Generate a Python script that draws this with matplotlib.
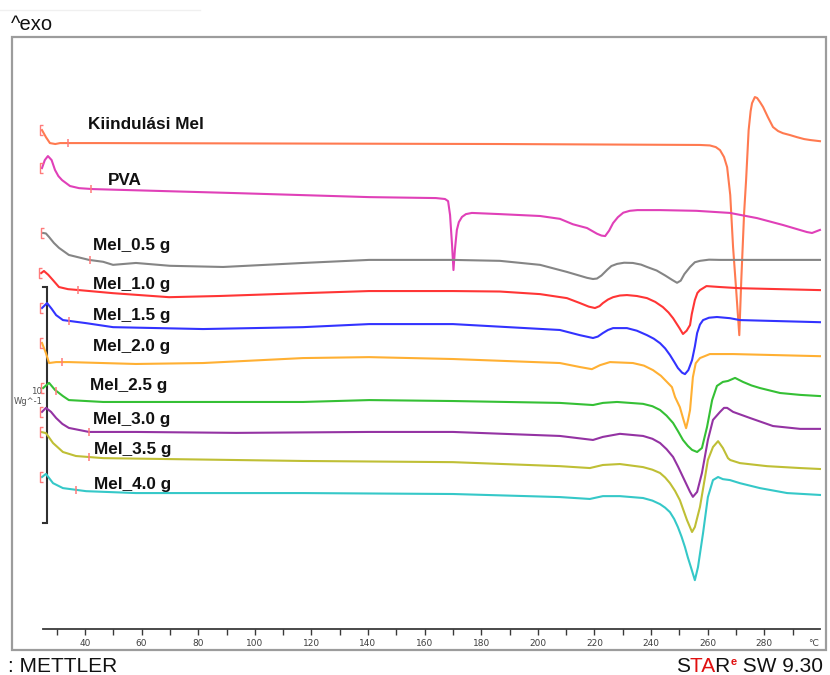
import numpy as np
import matplotlib
matplotlib.use("Agg")
import matplotlib.pyplot as plt
from matplotlib.path import Path
from matplotlib.patches import Rectangle
from matplotlib.lines import Line2D
from matplotlib.transforms import Bbox

# ---------------------------------------------------------------- data
# Temperatures in degC, heat flow in W/g relative to each curve's own baseline.
kiind_T = [24.8, 26.2, 27.6, 29.5, 31.2, 34.0, 45.3, 116.0, 186.6, 257.3, 260.8, 262.9,
           264.4, 265.8, 266.9, 268.0, 269.0, 270.1, 271.2, 271.9, 272.9, 273.6, 274.5,
           275.2, 275.7, 276.7, 277.5, 278.5, 279.6, 281.3, 283.1, 284.9, 286.6, 289.1,
           291.6, 294.1, 296.2, 299.7]
kiind_hf = [0.55, 0.25, 0.0, -0.04, 0.0, 0.0, 0.0, -0.02, -0.04, -0.08, -0.10, -0.17,
            -0.30, -0.59, -1.02, -2.20, -4.41, -6.23, -8.14, -5.81, -2.97, -1.57, 0.55,
            1.35, 1.69, 1.95, 1.91, 1.74, 1.53, 1.10, 0.68, 0.51, 0.42, 0.34,
            0.25, 0.17, 0.13, 0.08]

pva_T = [24.8, 25.8, 26.9, 28.2, 29.4, 30.6, 31.9, 34.7, 37.9, 42.8, 93.4, 140.4, 164.0,
         167.2, 168.3, 169.0, 169.7, 170.2, 170.7, 171.4, 172.1, 173.2, 174.6, 176.7,
         186.6, 200.8, 207.8, 212.4, 217.4, 220.9, 222.5, 223.8, 225.2, 226.6, 228.3,
         230.2, 232.5, 235.2, 243.2, 256.0, 267.9, 277.5, 286.6, 295.1, 296.9, 299.7]
pva_hf = [0.93, 1.27, 1.44, 1.27, 0.85, 0.59, 0.42, 0.17, 0.08, 0.04, -0.13, -0.30, -0.34,
          -0.38, -0.47, -1.06, -2.33, -3.39, -2.54, -1.69, -1.36, -1.14, -1.02, -0.97,
          -1.02, -1.10, -1.22, -1.45, -1.61, -1.85, -1.93, -1.95, -1.72, -1.40, -1.15,
          -0.96, -0.88, -0.85, -0.85, -0.88, -0.97, -1.19, -1.48, -1.78, -1.82, -1.69]

mel05_T = [25.2, 26.2, 27.3, 29.0, 30.8, 34.3, 41.4, 46.4, 49.9, 58.0, 70.0, 88.8, 117.0,
           140.4, 170.0, 186.6, 200.8, 210.3, 217.4, 219.5, 220.9, 222.5, 224.5, 226.0,
           228.0, 230.5, 233.6, 236.5, 238.6, 242.0, 245.0, 247.5, 249.2, 250.5, 251.8,
           253.8, 255.5, 257.3, 260.5, 264.4, 299.7]
mel05_hf = [1.14, 1.12, 0.97, 0.72, 0.51, 0.21, 0.0, -0.08, -0.21, -0.13, -0.25, -0.30,
            -0.13, 0.0, 0.0, -0.04, -0.21, -0.51, -0.76, -0.81, -0.79, -0.66, -0.42, -0.26,
            -0.17, -0.12, -0.13, -0.20, -0.30, -0.45, -0.66, -0.85, -0.97, -0.88, -0.60,
            -0.30, -0.10, -0.04, 0.01, 0.0, 0.0]

mel10_T = [24.5, 25.5, 27.0, 28.7, 30.8, 34.0, 37.9, 49.9, 69.7, 87.4, 117.0, 140.4, 170.0,
           186.6, 200.8, 210.3, 214.9, 218.0, 220.2, 221.8, 223.0, 224.8, 226.6, 229.0,
           231.5, 235.0, 238.6, 241.5, 244.2, 246.2, 247.8, 250.0, 251.3, 252.6, 253.8,
           254.4, 255.5, 256.4, 257.3, 259.6, 264.4, 271.4, 299.7]
mel10_hf = [0.72, 0.81, 0.65, 0.42, 0.13, 0.04, 0.0, -0.13, -0.30, -0.25, -0.13, -0.04, -0.04,
            -0.06, -0.17, -0.34, -0.55, -0.70, -0.76, -0.68, -0.55, -0.40, -0.30, -0.23,
            -0.21, -0.25, -0.34, -0.50, -0.72, -0.95, -1.19, -1.60, -1.86, -1.72, -1.48,
            -1.02, -0.42, -0.12, 0.0, 0.17, 0.13, 0.08, 0.0]

mel15_T = [24.8, 26.6, 28.2, 29.8, 32.2, 40.4, 49.9, 81.7, 117.0, 140.4, 170.0, 207.8, 214.9,
           219.5, 221.2, 223.0, 224.8, 226.6, 231.5, 235.0, 238.6, 241.0, 243.2, 245.0,
           246.7, 248.3, 249.5, 251.0, 252.0, 253.2, 254.5, 255.5, 256.3, 257.3, 258.4,
           260.5, 263.3, 267.9, 271.4, 299.7]
mel15_hf = [0.68, 0.89, 0.65, 0.38, 0.17, 0.04, -0.13, -0.21, -0.13, 0.0, 0.0, -0.25, -0.47,
            -0.59, -0.53, -0.38, -0.25, -0.17, -0.17, -0.28, -0.47, -0.62, -0.81, -1.03,
            -1.31, -1.62, -1.86, -2.06, -2.12, -1.95, -1.53, -0.95, -0.38, -0.02, 0.17,
            0.27, 0.30, 0.25, 0.17, 0.08]

mel20_T = [24.8, 26.2, 27.3, 29.8, 34.3, 58.0, 81.7, 117.0, 140.4, 170.0, 207.8, 214.9,
           219.1, 222.0, 225.5, 233.6, 237.5, 240.7, 243.5, 245.7, 247.4, 248.5, 250.2,
           251.5, 252.4, 253.1, 253.8, 254.8, 255.8, 257.3, 260.8, 269.0, 299.7]
mel20_hf = [0.81, 0.38, -0.04, 0.0, 0.0, -0.08, -0.04, 0.17, 0.21, 0.13, -0.04, -0.21,
            -0.30, -0.13, 0.0, -0.04, -0.15, -0.34, -0.58, -0.85, -1.06, -1.48, -1.91,
            -2.45, -2.80, -2.45, -2.03, -0.64, -0.05, 0.17, 0.34, 0.34, 0.25]

mel25_T = [25.2, 27.3, 29.4, 32.2, 34.3, 46.4, 69.7, 117.0, 140.4, 170.0, 207.8, 219.5,
           223.0, 228.0, 237.2, 240.5, 243.2, 245.5, 247.8, 249.6, 251.3, 253.0, 254.5,
           256.3, 258.0, 259.8, 261.6, 263.3, 265.4, 267.2, 269.7, 272.5, 275.5, 278.5,
           285.6, 292.7, 299.7]
mel25_hf = [0.59, 0.81, 0.51, 0.25, 0.08, 0.0, 0.0, 0.0, 0.08, 0.04, -0.04, -0.13,
            -0.04, 0.0, -0.08, -0.18, -0.34, -0.58, -0.89, -1.25, -1.61, -1.86, -2.03,
            -2.12, -1.95, -1.06, 0.08, 0.68, 0.85, 0.89, 1.02, 0.85, 0.70, 0.59,
            0.38, 0.30, 0.25]

mel30_T = [24.8, 26.2, 28.0, 29.8, 32.0, 34.3, 41.4, 58.0, 93.4, 140.4, 170.0, 207.8, 219.5,
           223.0, 229.0, 237.2, 240.5, 243.2, 245.5, 247.8, 249.6, 251.3, 253.8, 254.8,
           256.3, 258.0, 260.1, 261.9, 264.4, 265.8, 266.9, 269.0, 275.0, 283.1, 292.7,
           299.7]
mel30_hf = [0.85, 1.02, 0.85, 0.59, 0.34, 0.17, 0.0, 0.0, -0.04, 0.0, 0.0, -0.17, -0.34,
            -0.21, -0.08, -0.17, -0.29, -0.47, -0.73, -1.06, -1.48, -1.91, -2.54, -2.75,
            -2.54, -1.74, -0.34, 0.51, 0.85, 1.02, 1.02, 0.85, 0.59, 0.25, 0.13, 0.13]

mel35_T = [24.8, 26.2, 28.7, 32.2, 36.8, 46.4, 69.7, 117.0, 170.0, 207.8, 218.4, 223.0,
           229.0, 237.2, 240.5, 243.2, 245.0, 246.7, 248.5, 250.2, 252.7, 254.5, 255.5,
           257.3, 259.1, 260.1, 261.9, 263.7, 265.4, 267.2, 268.0, 271.4, 281.0, 292.7,
           299.7]
mel35_hf = [1.14, 1.10, 0.68, 0.30, 0.13, 0.04, 0.0, -0.08, -0.13, -0.30, -0.38, -0.25,
            -0.21, -0.34, -0.45, -0.59, -0.78, -1.02, -1.35, -1.74, -2.58, -3.09, -2.88,
            -2.03, -0.76, -0.04, 0.51, 0.76, 0.47, 0.04, -0.04, -0.17, -0.30, -0.38,
            -0.42]

mel40_T = [24.8, 26.2, 28.7, 32.2, 40.4, 58.0, 117.0, 170.0, 207.8, 218.4, 223.0, 229.0,
           237.2, 240.5, 243.2, 245.0, 246.7, 248.2, 249.5, 250.8, 252.0, 253.0, 254.1,
           255.5, 256.6, 258.4, 260.1, 261.9, 263.7, 265.4, 267.9, 271.4, 278.5, 288.1,
           299.7]
mel40_hf = [0.68, 0.81, 0.42, 0.21, 0.08, 0.0, 0.0, -0.04, -0.17, -0.25, -0.13, -0.13,
            -0.21, -0.32, -0.47, -0.62, -0.81, -1.10, -1.44, -1.85, -2.29, -2.72, -3.14,
            -3.69, -3.14, -1.69, -0.17, 0.55, 0.68, 0.59, 0.55, 0.42, 0.21, 0.0, -0.08]

names = ["Kiindulási Mel", "PVA", "Mel_0.5 g", "Mel_1.0 g", "Mel_1.5 g", "Mel_2.0 g",
         "Mel_2.5 g", "Mel_3.0 g", "Mel_3.5 g", "Mel_4.0 g"]
temps = [kiind_T, pva_T, mel05_T, mel10_T, mel15_T, mel20_T, mel25_T, mel30_T, mel35_T, mel40_T]
flows = [kiind_hf, pva_hf, mel05_hf, mel10_hf, mel15_hf, mel20_hf, mel25_hf, mel30_hf,
         mel35_hf, mel40_hf]
# vertical stacking offsets (W/g)
offsets = [20.59, 18.60, 15.64, 14.36, 12.92, 11.31, 9.62, 8.35, 7.20, 5.76]
# temperatures of the evaluation ticks on each curve
tick_T = [34.0, 42.1, 41.8, 37.5, 34.3, 31.9, 29.8, 41.4, 41.4, 36.8]

colors = ["#ff7a50", "#e040b8", "#858585", "#ff3535", "#3333ff", "#ffb033",
          "#35c035", "#9433a3", "#bfbf35", "#35c8c8"]

# label anchors (temperature, stacked heat flow) for the curve names
label_pos = [(41.1, 21.19), (48.1, 18.81), (42.8, 16.06), (42.8, 14.41), (42.8, 13.09),
             (42.8, 11.78), (41.8, 10.13), (42.8, 8.69), (43.2, 7.42), (43.2, 5.93)]

# ---------------------------------------------------------------- figure
W, H, DPI = 830, 675, 100
fig = plt.figure(figsize=(W / DPI, H / DPI), dpi=DPI)
fig.patch.set_facecolor("white")


def fx(px):
    return px / W


def fy(py):
    return 1 - py / H


# outer frame
fig.add_artist(Rectangle((fx(12), fy(650)), fx(826) - fx(12), fy(37) - fy(650),
                         transform=fig.transFigure, fill=False, edgecolor="#9c9c9c", lw=1.6))
fig.add_artist(Line2D([0, fx(200)], [fy(10), fy(10)], transform=fig.transFigure,
                      color="#f0f0f0", lw=1))

px_per_deg = 2.83
px_per_wg = 23.6
ax = fig.add_axes([fx(12), fy(629), fx(826) - fx(12), fy(37) - fy(629)])
ax.set_xlim(40 + (12 - 85) / px_per_deg, 40 + (826 - 85) / px_per_deg)
ax.set_ylim(0, (629 - 37) / px_per_wg)
ax.patch.set_alpha(0)
for side in ("left", "right", "top"):
    ax.spines[side].set_visible(False)
ax.spines["bottom"].set_bounds(25.2, 299.7)
ax.spines["bottom"].set_color("#3a3a3a")
ax.spines["bottom"].set_linewidth(1.3)
ax.set_yticks([])
ax.set_xticks(np.arange(40, 281, 20))
ax.set_xticks(np.arange(30, 291, 20), minor=True)
ax.tick_params(axis="x", which="both", direction="out", length=4, width=1,
               color="#3a3a3a", labelsize=6.5, labelcolor="#404040", pad=3)
for lab in ax.get_xticklabels():
    lab.set_fontfamily("DejaVu Sans")

bracket = Path([(0.45, 1), (-0.15, 1), (-0.15, -1), (0.45, -1)],
               [Path.MOVETO, Path.LINETO, Path.LINETO, Path.LINETO])
mark_col = "#ff7b7b"

for T, hf, off, col, tt in zip(temps, flows, offsets, colors, tick_T):
    T = np.asarray(T)
    y = np.asarray(hf) + off
    ax.plot(T, y, color=col, lw=1.5, solid_joinstyle="round", zorder=3)
    ax.plot([T[0] - 0.4], [y[0]], marker=bracket, ms=7, mew=1.0, color=mark_col,
            fillstyle="none", zorder=4)
    ax.plot([tt], [np.interp(tt, T, y)], marker="|", ms=6, mew=1.1, color=mark_col, zorder=4)

for name, (lx, ly) in zip(names, label_pos):
    ax.text(lx, ly, name, fontsize=12.3, fontweight="bold", family="Liberation Sans",
            ha="left", va="baseline", color="#111111", zorder=5)

# 10 W/g scale bar
bar_T = 40 + (47 - 85) / px_per_deg
serif_T = 40 + (43 - 85) / px_per_deg
bar_lo = (629 - 523) / px_per_wg
bar_hi = bar_lo + 10
ax.plot([serif_T, bar_T, bar_T, serif_T], [bar_hi, bar_hi, bar_lo, bar_lo],
        color="#303030", lw=1.5, zorder=2, solid_joinstyle="miter")
ax.text(40 + (42 - 85) / px_per_deg, (629 - 392) / px_per_wg, "10", fontsize=6.3,
        color="#505050", ha="right", va="center")
ax.text(40 + (43 - 85) / px_per_deg, (629 - 402) / px_per_wg, "Wg^-1", fontsize=6.0,
        color="#505050", ha="right", va="center")

fig.text(fx(813), fy(643), "°C", fontsize=6.5, color="#404040", ha="center", va="center")

# header and footer
fig.text(fx(11), fy(30), "^exo", fontsize=14.5, family="Liberation Sans", ha="left",
         va="baseline", color="#111111")
fig.text(fx(8), fy(672), ": METTLER", fontsize=15, family="Liberation Sans", ha="left",
         va="baseline", color="#111111")

# "STARe SW 9.30", right aligned; the red "TA" is a clipped red copy of "STAR"
renderer = fig.canvas.get_renderer()


def text_width(s, fs=15, weight="normal"):
    t = fig.text(0, 0, s, fontsize=fs, family="Liberation Sans", fontweight=weight)
    w = t.get_window_extent(renderer).width
    t.remove()
    return w


w_star = text_width("STAR")
w_e = text_width("e", 8, "bold")
w_tail = text_width(" SW 9.30")
start = 823 - (w_star + w_e + 1 + w_tail)
fig.text(fx(start), fy(672), "STAR", fontsize=15, family="Liberation Sans", color="#111111")
red = fig.text(fx(start), fy(672), "STAR", fontsize=15, family="Liberation Sans",
               color="#e01010", zorder=5)
x0 = start + text_width("S") + 0.3
x1 = start + text_width("STA") + 0.3
red.set_clip_box(Bbox.from_extents(x0, 0, x1, H))
red.set_clip_on(True)
# white backing so the black glyphs under the red ones do not show
fig.add_artist(Rectangle((fx(x0), fy(674)), fx(x1) - fx(x0), fy(652) - fy(674),
                         transform=fig.transFigure, facecolor="white", edgecolor="none",
                         zorder=4))
fig.text(fx(start + w_star + 1), fy(665), "e", fontsize=8, fontweight="bold",
         family="Liberation Sans", color="#e01010")
fig.text(fx(start + w_star + 1 + w_e), fy(672), " SW 9.30", fontsize=15,
         family="Liberation Sans", color="#111111")

fig.savefig("out.png", dpi=DPI)
